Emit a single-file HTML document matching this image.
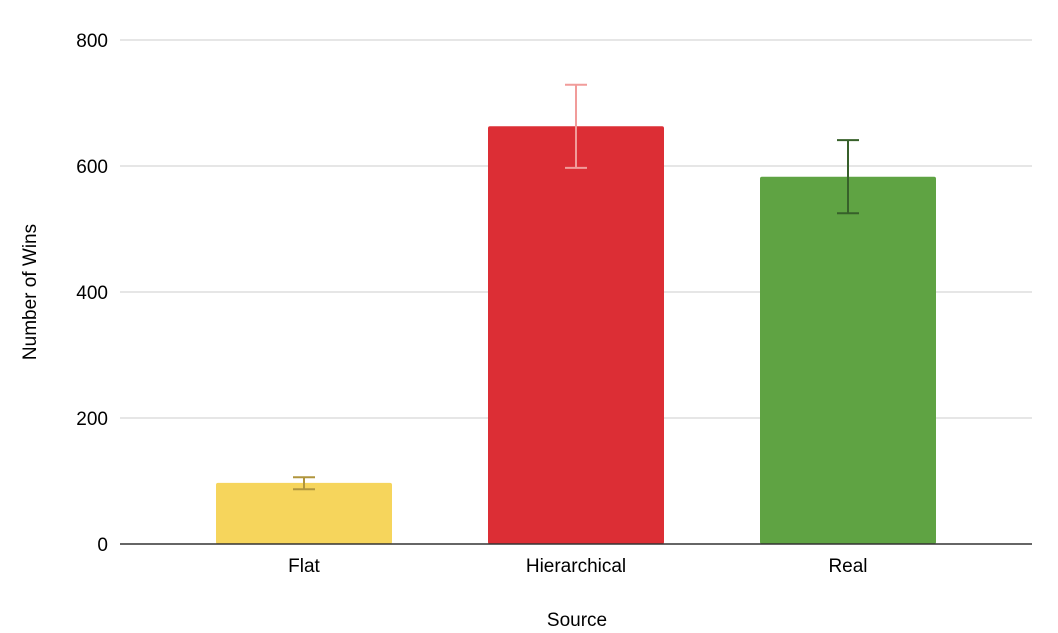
<!DOCTYPE html>
<html><head><meta charset="utf-8"><style>
body{margin:0;background:#fff;font-family:"Liberation Sans",Arial,sans-serif;}
svg text{font-family:"Liberation Sans",Arial,sans-serif;}
</style></head><body>
<svg id="chart" width="1058" height="628" viewBox="0 0 1058 628" xmlns="http://www.w3.org/2000/svg">
<g id="grid"></g><g id="bars"></g><g id="errs"></g><g id="labels"></g>
<line x1="120" y1="544" x2="1032" y2="544" stroke="#333" stroke-width="1.5"/>
<text x="577" y="626" text-anchor="middle" font-size="19" fill="#000">Source</text>
<text transform="translate(36,292) rotate(-90)" text-anchor="middle" font-size="19" fill="#000">Number of Wins</text>
</svg>
<script>
const categories = ["Flat","Hierarchical","Real"];
const values = [97, 663, 583];
const errLow = [87, 597, 525];
const errHigh = [106, 729, 641];
const ticks = [0,200,400,600,800];
const colors = ["#f6d55c","#dc2e35","#5fa343"];
const errColors = ["#b0953d","#f19c9a","#37602a"];
const x0=120,x1=1032,cx0=168,cx1=984,yBase=544,yTop=40,yMax=800;
const y=v=>yBase-(v/yMax)*(yBase-yTop);
const band=(cx1-cx0)/categories.length;
const cx=i=>cx0+band*(i+0.5);
const bw=176;
const NS="http://www.w3.org/2000/svg";
function mk(tag,attrs,parent){const e=document.createElementNS(NS,tag);for(const k in attrs)e.setAttribute(k,attrs[k]);document.getElementById(parent).appendChild(e);return e;}
ticks.forEach(t=>{
  if(t>0){const l=mk('line',{x1:x0,x2:x1,y1:y(t),y2:y(t),stroke:'#ccc','stroke-width':1},'grid');
  
  }
  const tx=mk('text',{x:108,y:y(t)+7,'text-anchor':'end','font-size':19,fill:'#000'},'labels');
  tx.textContent=t;
  
  
});
categories.forEach((c,i)=>{
  const r=mk('rect',{x:cx(i)-bw/2,y:y(values[i]),width:bw,height:yBase-y(values[i]),fill:colors[i],rx:2},'bars');
  
  
  const g=document.createElementNS(NS,'g');document.getElementById('errs').appendChild(g);
  
  
  const s={stroke:errColors[i],'stroke-width':2};
  [[cx(i),y(errHigh[i]),cx(i),y(errLow[i])],[cx(i)-11,y(errHigh[i]),cx(i)+11,y(errHigh[i])],[cx(i)-11,y(errLow[i]),cx(i)+11,y(errLow[i])]].forEach(p=>{
    const l=document.createElementNS(NS,'line');
    l.setAttribute('x1',p[0]);l.setAttribute('y1',p[1]);l.setAttribute('x2',p[2]);l.setAttribute('y2',p[3]);
    for(const k in s)l.setAttribute(k,s[k]);g.appendChild(l);
  });
  const tx=mk('text',{x:cx(i),y:572,'text-anchor':'middle','font-size':19,fill:'#000'},'labels');
  tx.textContent=c;
  
  
});
</script>
</body></html>
